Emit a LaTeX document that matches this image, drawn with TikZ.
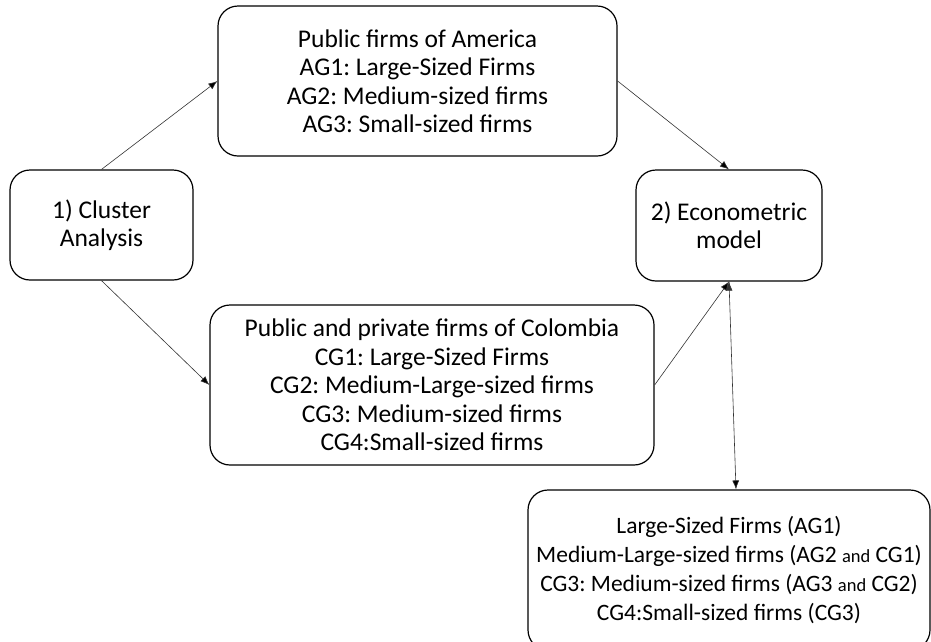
\documentclass[tikz,border=0pt]{standalone}
\usepackage{fontspec}
\setmainfont{Carlito}
\usepackage{tikz}
\usetikzlibrary{arrows.meta}

\tikzset{
	box/.style={draw,line width=1.2pt,rounded corners=20pt,inner sep=0pt,align=center,
		font=\fontsize{25.5}{28.5}\selectfont},
	link/.style={line width=0.6pt,draw=black!80,-{Latex[length=9pt,width=7pt]}}
}
\newcommand{\sm}[1]{{\fontsize{18.5}{18.5}\selectfont #1}}
\frenchspacing

\begin{document}
\begin{tikzpicture}[x=1pt,y=-1pt]
		\useasboundingbox (0,0) rectangle (931,641);
		\node[box,minimum width=183pt,minimum height=110pt] (clu) at (101.5,225) {1) Cluster\\Analysis};
		\node[box,minimum width=399pt,minimum height=150pt] (usa) at (417.5,81) {Public firms of America\\AG1: Large-Sized Firms\\AG2: Medium-sized firms\\AG3: Small-sized firms};
		\node[box,minimum width=186pt,minimum height=111pt] (eco) at (729,225.5) {2) Econometric\\model};
		\node[box,minimum width=444pt,minimum height=160pt] (col) at (432,385) {Public and private firms of Colombia\\CG1: Large-Sized Firms\\CG2: Medium-Large-sized firms\\CG3: Medium-sized firms\\CG4:Small-sized firms};
		\node[box,minimum width=402pt,minimum height=160pt,font=\fontsize{23.5}{29.3}\selectfont] (res) at (729,570) {Large-Sized Firms (AG1)\\Medium-Large-sized firms (AG2 \sm{and} CG1)\\CG3: Medium-sized firms (AG3 \sm{and} CG2)\\CG4:Small-sized firms (CG3)};
		%
		\path[link]
		% to the two groups
		(clu.north) edge (usa.west)
		(clu.south) edge (col.west)
		% to the model
		(usa.east) edge (eco.north)
		(col.east) edge (eco.south)
		% to the result
		(eco.south) edge ([xshift=7pt]res.north);
\end{tikzpicture}
\end{document}
